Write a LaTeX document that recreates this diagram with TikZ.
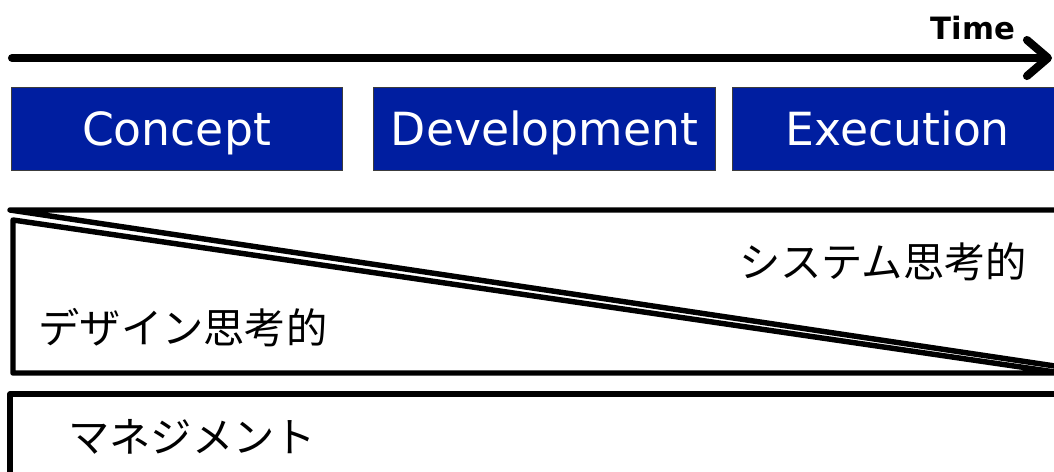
\documentclass[tikz,border=0pt]{standalone}
\usepackage{fontspec}
\setmainfont{DejaVu Sans}
\newfontfamily\jpfont{Noto Sans CJK JP}
\usetikzlibrary{arrows.meta, positioning}
\definecolor{phasebg}{RGB}{0, 30, 160}
\definecolor{edge}{RGB}{60, 60, 60}
\tikzset{
    phase/.style={rectangle, draw=edge, fill=phasebg, text=white, thin, minimum width=6.62cm, minimum height=1.66cm, inner sep=0pt, text height=19pt, text depth=0pt, font=\fontsize{26}{30}\selectfont},
    band/.style={draw=black, line width=3.1pt, line join=round, fill=white},
    jplabel/.style={font=\jpfont\fontsize{23.5}{28}\selectfont, inner sep=0pt},
    timeline/.style={-{Straight Barb[round, length=0.42cm, width=0.72cm]}, line width=4.6pt, line cap=round}
}

\begin{document}
\begin{tikzpicture}[x=0.02cm, y=-0.02cm]

    \useasboundingbox (0,0) rectangle (1054,471);
    \clip (0,0) rectangle (1054,471);

    % Time axis
    \coordinate (tstart) at (12,58);
    \coordinate (tend) at (1052,58);
    \draw [timeline] (tstart) -- (tend);
    \node (time) [font=\bfseries\fontsize{17.5}{20}\selectfont, inner sep=0pt] at (973,28) {Time};

    % Phases
    \node (concept) [phase] at (176.5,128.5) {Concept};
    \node (devel) [phase, right=0.62cm of concept, minimum width=6.84cm] {Development};
    \node (exec) [phase, right=0.32cm of devel] {Execution};

    % Thinking styles: two wedges
    \draw [band] (10,210) -- (1075,210) -- (1075,369) -- cycle;
    \draw [band] (13,220) -- (13,373) -- (1062,373) -- cycle;
    \node (systhink) [jplabel] at (883,262) {システム思考的};
    \node (desthink) [jplabel] at (183,328) {デザイン思考的};

    % Management
    \draw [band] (10,394) rectangle (1080,500);
    \node (mgmt) [jplabel] at (192,437) {マネジメント};

\end{tikzpicture}
\end{document}
